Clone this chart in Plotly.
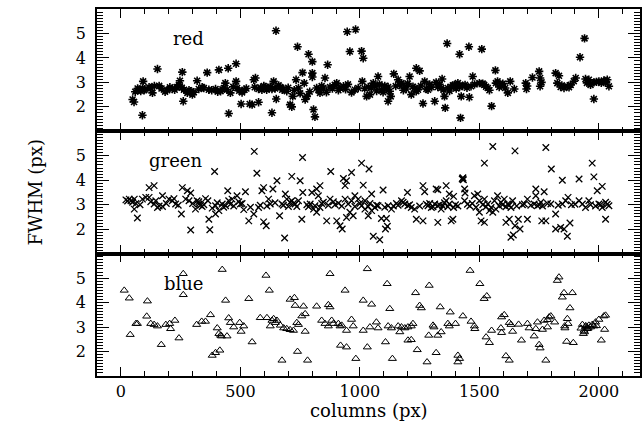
import plotly.graph_objects as go

# ---------------- data (column, FWHM) ----------------
red_cols = [49, 55, 90, 93, 76, 83, 90, 97, 118, 125, 132, 153, 160, 194, 215, 233, 243, 247, 257, 261,
            264, 278, 292, 299, 319, 326, 347, 361, 368, 396, 410, 417, 431, 437, 444, 449, 451, 458, 482, 482,
            486, 503, 507, 517, 539, 549, 556, 563, 576, 576, 590, 604, 618, 632, 632, 639, 649, 650, 667, 681,
            694, 708, 715, 719, 733, 739, 743, 760, 767, 771, 778, 785, 801, 801, 801, 806, 812, 819, 833, 847,
            854, 865, 875, 903, 917, 931, 947, 958, 982, 965, 979, 993,
            60, 70, 100, 140, 170, 185, 205, 225, 255, 285, 305, 340, 380, 405, 425, 470, 495, 525, 560, 585,
            598, 610, 625, 645, 660, 675, 700, 725, 750, 790, 826, 840, 860, 885, 895, 910, 940, 950,
            1007, 1014, 1010, 1028, 1042, 1035, 1056, 1063, 1076, 1090, 1104, 1118, 1125, 1118, 1129, 1142, 1160,
            1174, 1188, 1194, 1208, 1215, 1229, 1236, 1243, 1236, 1250, 1264, 1271, 1278, 1285, 1313, 1319, 1326,
            1340, 1344, 1354, 1357, 1365, 1368, 1382, 1396, 1410, 1417, 1417, 1421, 1424, 1456, 1458, 1465, 1472,
            1500, 1514, 1510, 1535, 1542, 1551, 1567, 1569, 1576, 1583, 1608, 1619, 1629, 1646, 1694, 1697, 1722,
            1750, 1754, 1754, 1819, 1833, 1826, 1840, 1854, 1868, 1882, 1903, 1921, 1940, 1944, 1958, 1965, 1979,
            1979, 2000, 2021, 2035, 2042,
            1020, 1048, 1070, 1082, 1097, 1110, 1150, 1167, 1182, 1200, 1222, 1255, 1292, 1300, 1333, 1350, 1375,
            1389, 1403, 1430, 1440, 1448, 1480, 1520, 1528, 1590, 1598, 1700, 1760, 1845, 1875, 1895, 1950, 1990,
            2010, 2028]
red_fwhm = [2.30, 2.20, 1.66, 3.04, 2.70, 2.65, 2.75, 2.68, 2.80, 2.77, 2.57, 3.55, 2.86, 2.68, 2.73, 2.81, 2.90, 3.07, 3.42, 2.23,
            2.70, 2.57, 2.64, 2.50, 3.07, 2.73, 2.77, 3.40, 2.70, 2.73, 3.51, 2.64, 2.77, 2.97, 2.70, 3.58, 1.73, 2.57, 3.76, 3.04,
            2.77, 2.12, 2.59, 2.70, 2.12, 2.09, 3.11, 3.18, 2.19, 2.73, 2.70, 2.81, 2.77, 2.73, 1.76, 3.04, 5.11, 2.32, 2.81, 2.73,
            2.64, 2.09, 2.00, 2.43, 3.11, 4.46, 2.77, 3.40, 2.97, 2.30, 2.43, 4.15, 3.85, 3.38, 3.22, 1.89, 1.59, 2.77, 2.57, 2.77,
            3.18, 3.72, 2.81, 2.97, 2.77, 2.84, 5.07, 4.26, 5.16, 2.59, 2.70, 2.77,
            2.62, 2.75, 2.72, 2.85, 2.75, 2.62, 2.80, 2.70, 2.78, 2.68, 2.60, 2.80, 2.68, 2.62, 2.72, 2.82, 2.66, 2.75, 2.80, 2.78,
            2.85, 2.70, 2.82, 2.75, 2.88, 2.70, 2.78, 2.68, 2.55, 2.62, 2.70, 2.85, 2.60, 2.75, 2.90, 2.68, 2.72, 2.92,
            4.28, 3.99, 3.04, 2.43, 2.50, 2.81, 2.97, 2.86, 3.24, 2.70, 2.86, 2.81, 2.64, 2.23, 2.43, 3.35, 3.11,
            2.97, 2.81, 2.73, 3.24, 2.50, 2.77, 2.64, 2.70, 3.58, 3.47, 2.14, 3.04, 2.73, 2.70, 2.23, 3.00, 2.81,
            2.77, 3.14, 2.43, 1.96, 4.59, 2.77, 2.81, 2.90, 2.97, 2.81, 4.15, 1.55, 2.43, 4.46, 2.39, 2.84, 3.24,
            2.97, 2.95, 4.36, 2.77, 2.68, 2.03, 3.49, 2.97, 3.04, 2.81, 2.77, 2.57, 3.04, 2.73, 2.97, 2.73, 3.20,
            3.45, 3.18, 2.84, 3.38, 3.27, 2.97, 2.81, 2.77, 2.84, 2.90, 3.18, 4.03, 4.80, 3.14, 3.11, 2.90, 3.00,
            2.32, 3.04, 3.08, 3.11, 2.84,
            2.75, 2.78, 2.65, 2.92, 2.60, 2.72, 2.85, 2.90, 2.68, 2.95, 2.82, 2.85, 2.92, 2.80, 2.92, 2.70, 2.65,
            2.88, 2.75, 2.85, 2.90, 2.78, 2.92, 2.90, 2.82, 2.88, 2.95, 2.85, 3.00, 2.88, 2.80, 3.05, 2.98, 3.02,
            2.98, 3.00]

green_cols = [21, 35, 42, 56, 49, 56, 69, 90, 104, 118, 139, 125, 139, 153, 174, 118, 146, 174, 201, 215,
              229, 222, 253, 257, 278, 292, 271, 285, 292, 312, 326, 340, 354, 364, 319, 326, 368, 372, 382, 396,
              410, 396, 392, 424, 438, 451, 465, 447, 486, 493, 500, 514, 521, 535, 556, 558, 569, 576, 590, 597,
              618, 625, 597, 608, 636, 653, 664, 674, 688, 685, 694, 701, 708, 715, 729, 736, 743, 715, 750, 760,
              761, 757, 792, 806, 819, 833, 847, 799, 819, 833, 826, 861, 878, 875, 889, 903, 917, 926, 931, 944,
              938, 938, 951, 965, 979, 944, 958, 972, 965,
              28, 63, 80, 160, 190, 240, 300, 333, 347, 403, 430, 458, 472, 507, 542, 583, 611, 645, 680, 722,
              778, 785, 812, 840, 868, 896, 910, 924,
              979, 993, 1007, 1038, 1007, 1021, 1035, 1049, 1063, 1076, 1014, 1021, 1049, 1035, 1056, 1083, 1097,
              1090, 1111, 1107, 1115, 1118, 1132, 1174, 1188, 1201, 1215, 1229, 1199, 1236, 1264, 1264, 1271, 1285,
              1299, 1313, 1326, 1340, 1319, 1326, 1326, 1361, 1374, 1392, 1361, 1374, 1392, 1382, 1389, 1428, 1431,
              1433, 1430, 1438, 1438, 1440, 1479, 1493, 1500, 1521, 1500, 1507, 1521, 1521, 1556, 1535, 1549, 1563,
              1576, 1590, 1542, 1556, 1569, 1604, 1618, 1632, 1639, 1611, 1625, 1632, 1642, 1649, 1649, 1663, 1670,
              1688, 1701, 1701, 1736, 1736, 1771, 1729, 1743, 1757, 1761, 1778, 1778, 1801, 1799, 1819, 1819, 1840,
              1854, 1847, 1847, 1861, 1871, 1868, 1879, 1917, 1917, 1931, 1944, 1958, 1972, 1979, 1993, 2014, 2000,
              2014, 2028, 2042, 2028,
              1000, 1042, 1070, 1104, 1140, 1153, 1160, 1181, 1208, 1250, 1278, 1292, 1306, 1333, 1347, 1354, 1368,
              1400, 1410, 1450, 1460, 1470, 1486, 1514, 1528, 1583, 1597, 1611, 1625, 1656, 1680, 1715, 1750, 1764,
              1785, 1830, 1885, 1900, 1965, 1986, 2007, 2035]
green_fwhm = [3.20, 3.23, 3.16, 3.23, 3.10, 2.82, 2.46, 3.23, 3.30, 3.70, 3.78, 3.12, 3.03, 2.89, 2.93, 3.30, 3.16, 3.37, 3.23, 3.16,
              3.03, 3.25, 2.62, 3.70, 3.57, 3.48, 3.23, 3.16, 1.97, 2.82, 3.03, 2.93, 3.25, 3.16, 3.16, 3.12, 2.41, 1.98, 2.86, 2.62,
              2.76, 2.96, 4.36, 3.03, 2.96, 3.16, 3.23, 3.57, 3.37, 3.12, 3.03, 2.80, 3.53, 2.34, 2.62, 5.18, 4.29, 2.89, 3.57, 3.70,
              3.23, 3.03, 2.30, 2.14, 3.64, 3.98, 2.55, 3.03, 3.44, 1.64, 3.23, 2.93, 3.10, 3.16, 3.03, 2.93, 3.16, 4.16, 3.98, 4.93,
              3.50, 2.41, 3.03, 2.82, 2.69, 2.89, 3.10, 3.50, 3.64, 3.78, 3.37, 2.34, 4.36, 3.23, 3.12, 2.34, 2.14, 2.01, 4.07, 3.98,
              3.78, 3.23, 3.03, 3.16, 2.93, 2.48, 2.69, 2.55, 4.32,
              3.15, 3.05, 3.00, 2.95, 3.05, 2.98, 3.05, 2.98, 3.00, 3.08, 2.90, 3.02, 2.95, 3.05, 2.90, 2.98, 2.95, 3.08, 2.98, 3.05,
              3.00, 2.92, 2.96, 3.05, 2.98, 3.00, 3.06, 2.95,
              3.37, 3.23, 4.70, 4.46, 2.96, 2.82, 2.93, 2.76, 2.89, 2.96, 3.80, 3.16, 3.44, 2.55, 1.71, 1.57, 3.60,
              2.44, 2.44, 2.01, 2.12, 2.96, 2.82, 3.16, 3.03, 2.96, 2.89, 2.82, 3.50, 2.41, 2.34, 3.78, 3.53, 2.96,
              2.89, 3.03, 2.96, 2.82, 3.64, 3.61, 2.28, 3.78, 3.44, 3.34, 3.16, 3.03, 2.89, 2.34, 2.41, 4.05, 4.10,
              4.02, 4.07, 3.16, 3.64, 3.48, 3.37, 3.44, 3.16, 3.23, 2.69, 2.34, 2.28, 4.70, 5.38, 3.03, 2.89, 3.16,
              3.37, 3.10, 2.76, 2.69, 2.82, 3.23, 3.03, 2.89, 3.16, 2.28, 2.41, 1.67, 1.76, 5.20, 2.14, 2.41, 2.01,
              3.03, 3.23, 2.41, 3.64, 3.37, 3.53, 3.03, 2.96, 3.10, 2.34, 2.34, 5.34, 4.46, 3.03, 2.62, 2.01, 2.07,
              2.01, 4.00, 3.03, 3.16, 3.30, 1.71, 2.25, 4.05, 3.16, 3.03, 2.89, 3.16, 4.70, 4.14, 3.57, 3.75, 3.03,
              2.89, 3.10, 2.96, 2.41,
              3.05, 3.05, 2.98, 2.90, 2.95, 3.05, 2.98, 3.10, 3.00, 2.95, 3.02, 3.05, 2.92, 3.00, 2.95, 3.08, 2.92,
              3.00, 2.95, 3.02, 2.95, 3.05, 2.90, 3.00, 2.92, 2.95, 3.00, 2.92, 2.98, 2.95, 3.00, 2.98, 3.00, 2.95,
              3.05, 2.98, 3.00, 3.02, 3.00, 2.95, 3.00, 3.02]

blue_cols = [14, 35, 39, 63, 69, 108, 111, 125, 139, 153, 169, 188, 204, 208, 226, 243, 261, 261, 317, 338,
             354, 375, 382, 396, 403, 410, 417, 421, 414, 424, 438, 444, 451, 458, 472, 497, 514, 503, 535, 549,
             583, 607, 611, 621, 625, 632, 639, 653, 646, 667, 681, 674, 708, 726, 694, 708, 722, 729, 736, 743,
             739, 757, 771, 764, 771, 781, 819, 840, 854, 868, 875, 868, 875, 882, 889, 910, 917, 924, 919, 944,
             938, 944, 965, 972, 983,
             1014, 1049, 1014, 1031, 1031, 1042, 1069, 1076, 1107, 1114, 1125, 1118, 1132, 1136, 1160, 1174, 1188,
             1201, 1215, 1222, 1167, 1201, 1215, 1233, 1240, 1250, 1257, 1281, 1290, 1288, 1306, 1310, 1319, 1326,
             1340, 1336, 1368, 1374, 1378, 1400, 1410, 1417, 1410, 1431, 1461, 1465, 1479, 1481, 1502, 1520, 1531,
             1528, 1542, 1551, 1593, 1604, 1590, 1593, 1611, 1625, 1632, 1625, 1639, 1664, 1676, 1701, 1708, 1729,
             1743, 1736, 1750, 1754, 1771, 1785, 1792, 1799, 1764, 1785, 1778, 1815, 1826, 1833, 1847, 1854, 1889,
             1857, 1858, 1868, 1871, 1865, 1893, 1879, 1931, 1944, 1958, 1972, 1986, 2000, 1938, 1951, 1979, 1935,
             2010, 2021, 2028, 2024, 1925, 1940, 1955, 1965, 1990, 1945]
blue_fwhm = [4.50, 4.18, 2.69, 3.14, 3.14, 3.44, 4.06, 3.14, 3.10, 3.04, 2.28, 3.10, 3.14, 2.93, 3.27, 2.55, 5.18, 4.32, 3.10, 3.23,
             3.23, 3.50, 1.84, 1.95, 2.96, 2.73, 2.66, 2.63, 2.05, 5.35, 4.09, 2.63, 3.37, 3.18, 3.00, 3.18, 3.04, 2.82, 4.16, 2.39,
             3.38, 5.11, 3.38, 4.50, 3.04, 3.27, 3.34, 3.27, 3.18, 3.07, 2.96, 1.64, 4.13, 4.20, 2.93, 2.89, 2.86, 3.88, 3.18, 3.10,
             2.00, 3.45, 3.54, 3.85, 2.82, 1.64, 3.85, 3.27, 3.14, 3.04, 3.82, 3.91, 5.18, 3.27, 3.14, 3.14, 3.04, 3.07, 2.25, 2.18,
             4.50, 2.86, 3.31, 3.04, 1.71,
             4.09, 3.93, 2.86, 5.38, 2.18, 3.00, 3.20, 2.96, 2.39, 4.77, 3.75, 3.04, 2.96, 1.71, 3.04, 3.00, 2.96,
             3.00, 3.04, 3.14, 2.80, 2.46, 2.48, 4.40, 2.07, 3.88, 3.78, 1.57, 4.70, 2.66, 3.07, 3.00, 1.95, 2.66,
             2.80, 3.82, 3.14, 3.04, 3.61, 3.14, 1.84, 1.71, 1.57, 3.45, 5.31, 3.23, 3.04, 2.93, 4.77, 4.16, 4.27,
             2.59, 2.36, 2.86, 3.41, 3.50, 2.96, 2.77, 1.82, 1.64, 3.10, 3.18, 2.82, 3.11, 2.46, 3.14, 2.96, 2.63,
             3.20, 2.93, 2.28, 2.14, 3.27, 3.30, 3.41, 3.45, 2.90, 3.00, 1.64, 3.20, 4.90, 5.04, 4.22, 4.40, 4.40,
             3.04, 2.96, 3.34, 3.14, 2.41, 2.36, 3.78, 3.10, 3.00, 3.07, 3.10, 3.20, 3.31, 2.86, 2.93, 3.04, 2.73,
             2.46, 3.45, 3.48, 2.90, 2.95, 2.80, 2.95, 3.00, 3.05, 3.05]

panel_names = ["red", "green", "blue"]
y_tick_vals = [2, 3, 4, 5]
x_range = [-100, 2172]
y_range = [1, 6]

FONT = "DejaVu Serif"

fig = go.Figure()
# top panel: red (x3/y3), middle: green (x2/y2), bottom: blue (x/y)
fig.add_trace(go.Scatter(x=red_cols, y=red_fwhm, mode="markers", xaxis="x3", yaxis="y3",
                         marker=dict(symbol="asterisk-open", size=7, color="black",
                                     line=dict(width=1.6, color="black"))))
fig.add_trace(go.Scatter(x=green_cols, y=green_fwhm, mode="markers", xaxis="x2", yaxis="y2",
                         marker=dict(symbol="x-thin-open", size=6.5, color="black",
                                     line=dict(width=1.3, color="black"))))
fig.add_trace(go.Scatter(x=blue_cols, y=blue_fwhm, mode="markers", xaxis="x", yaxis="y",
                         marker=dict(symbol="triangle-up-open", size=7, color="black",
                                     line=dict(width=1.0, color="black"))))

def xax(anchor, labels):
    return dict(range=x_range, anchor=anchor, showline=True, linecolor="black", linewidth=1.5,
                mirror="allticks", ticks="inside", ticklen=9, tickwidth=1.2, tickcolor="black",
                tick0=0, dtick=500, showticklabels=labels, showgrid=False, zeroline=False,
                minor=dict(tick0=0, dtick=100, ticks="inside", ticklen=5, tickcolor="black", tickwidth=1),
                tickfont=dict(family=FONT, size=16, color="black"))

def yax(anchor, domain):
    return dict(range=y_range, anchor=anchor, domain=domain, showline=True, linecolor="black",
                linewidth=1.5, mirror="allticks", ticks="inside", ticklen=12, tickwidth=1.2,
                tickcolor="black", tickvals=y_tick_vals, showgrid=False, zeroline=False,
                minor=dict(tickmode="linear", tick0=1, dtick=0.125, ticks="inside", ticklen=6,
                           tickcolor="black", tickwidth=1),
                ticklabelstandoff=6,
                tickfont=dict(family=FONT, size=16, color="black"))

fig.update_layout(
    width=644, height=435,
    margin=dict(l=97, r=2, t=9, b=59),
    paper_bgcolor="white", plot_bgcolor="white",
    showlegend=False,
    xaxis=xax("y", True), xaxis2=xax("y2", False), xaxis3=xax("y3", False),
    yaxis=yax("x", [0, 1/3]), yaxis2=yax("x2", [1/3, 2/3]), yaxis3=yax("x3", [2/3, 1]),
)
fig.update_layout(xaxis2=dict(matches="x"), xaxis3=dict(matches="x"))

# panel labels
label_pos = [("x3", "y3"), ("x2", "y2"), ("x", "y")]
label_x = [284, 229, 264]
for name, (xr, yr), lx in zip(panel_names, label_pos, label_x):
    fig.add_annotation(x=lx, y=4.8, xref=xr, yref=yr, text=name, showarrow=False,
                       font=dict(family=FONT, size=18, color="black"))

fig.add_annotation(xref="paper", yref="paper", x=0.5, y=-0.093, text="columns (px)", showarrow=False,
                   yanchor="middle", font=dict(family=FONT, size=18, color="black"))
fig.add_annotation(xref="paper", yref="paper", x=-0.114, y=0.5, text="FWHM (px)", showarrow=False,
                   textangle=-90, xanchor="center", font=dict(family=FONT, size=18, color="black"))

fig.write_html("out.html")
